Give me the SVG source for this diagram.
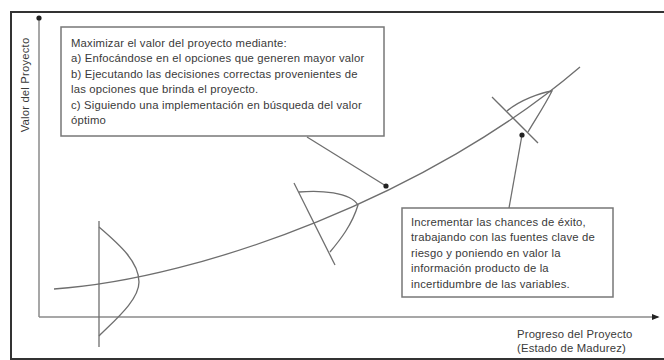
<svg xmlns="http://www.w3.org/2000/svg" width="664" height="360" viewBox="0 0 664 360">
  <style>
    .frame { fill: none; stroke: #333; stroke-width: 2; }
    .axis { fill: none; stroke: #8a8a8a; stroke-width: 1.5; }
    .ln { fill: none; stroke: #6e6e6e; stroke-width: 1.3; }
    .box { fill: #ffffff; stroke: #777; stroke-width: 1.5; }
    .t { font-family: "Liberation Sans", Arial, sans-serif; font-size: 11.3px; letter-spacing: 0.18px; fill: #3a3a3a; }
  </style>
  <defs>
    <marker id="dot" viewBox="0 0 6 6" refX="3" refY="3" markerWidth="6" markerHeight="6" markerUnits="userSpaceOnUse">
      <circle cx="3" cy="3" r="2.6" fill="#222"/>
    </marker>
    <marker id="tri" viewBox="0 0 10 10" refX="8" refY="5" markerWidth="8" markerHeight="8" orient="auto" markerUnits="userSpaceOnUse">
      <path d="M0,1 L10,5 L0,9 Z" fill="#222"/>
    </marker>
  </defs>

  <rect class="frame" x="11" y="12" width="665" height="347"/>

  <g id="axes">
    <path class="axis" d="M39,317 L39,18" marker-end="url(#dot)"/>
    <path class="axis" d="M39,317 L658,317" marker-end="url(#tri)"/>
    <text class="t" transform="translate(28.5,85) rotate(-90)" text-anchor="middle">Valor del Proyecto</text>
    <text class="t" x="517" y="337.5">Progreso del Proyecto</text>
    <text class="t" x="517" y="351.5">(Estado de Madurez)</text>
  </g>

  <g id="value-curve">
    <path class="ln" d="M54,289 C202,279 432,194 580,67"/>
  </g>

  <g id="dist1">
    <path class="ln" d="M99,221 L99,347"/>
    <path class="ln" d="M99,227 C120,245 139,262 139,282 C139,300 115,320 99,336"/>
  </g>

  <g id="dist2">
    <path class="ln" d="M294,183 L335,265"/>
    <path class="ln" d="M299,192 C320,190 350,192 358,205 C352,225 340,240 330,252"/>
  </g>

  <g id="dist3">
    <path class="ln" d="M492,97 L538,143"/>
    <path class="ln" d="M507,111 C520,100 540,93 552,91 C545,105 535,120 528,132"/>
  </g>

  <g id="box1">
    <rect class="box" x="61" y="27" width="323" height="109"/>
    <text class="t" x="71" y="46.5">Maximizar el valor del proyecto mediante:</text>
    <text class="t" x="71" y="62">a) Enfocándose en el opciones que generen mayor valor</text>
    <text class="t" x="71" y="77.5">b) Ejecutando las decisiones correctas provenientes de</text>
    <text class="t" x="71" y="93">las opciones que brinda el proyecto.</text>
    <text class="t" x="71" y="108.5">c) Siguiendo una implementación en búsqueda del valor</text>
    <text class="t" x="71" y="124">óptimo</text>
  </g>

  <g id="box2">
    <rect class="box" x="402" y="208" width="211" height="89"/>
    <text class="t" x="411" y="225.5">Incrementar las chances de éxito,</text>
    <text class="t" x="411" y="241">trabajando con las fuentes clave de</text>
    <text class="t" x="411" y="256.5">riesgo y poniendo en valor la</text>
    <text class="t" x="411" y="272">información producto de la</text>
    <text class="t" x="411" y="287.5">incertidumbre de las variables.</text>
  </g>

  <g id="connectors">
    <path class="ln" d="M307,137 L386,186" marker-end="url(#dot)"/>
    <path class="ln" d="M509,208 L522,135" marker-end="url(#dot)"/>
  </g>
</svg>
